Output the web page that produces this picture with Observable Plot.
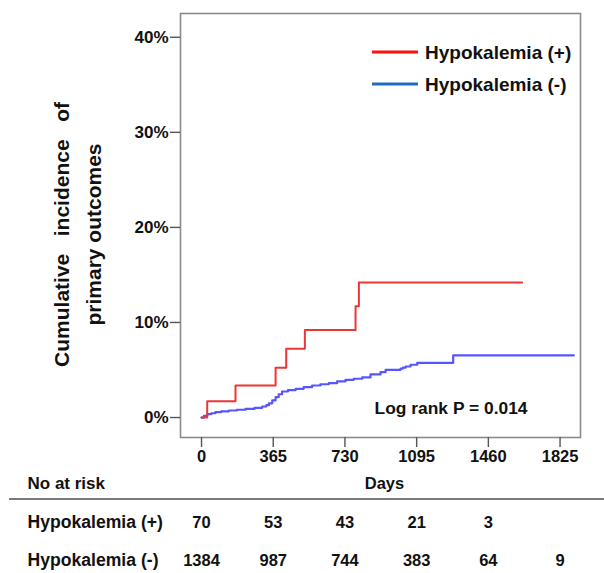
<!DOCTYPE html>
<html>
<head>
<meta charset="utf-8">
<script src="https://cdn.jsdelivr.net/npm/d3@7"></script>
<script src="https://cdn.jsdelivr.net/npm/@observablehq/plot@0.6"></script>
<style>
  html, body { margin: 0; padding: 0; background: #fff; }
  #chart svg { display: block; }
</style>
</head>
<body>
<div id="chart"></div>
<script>
// ---- data ----
const xTicks = [0, 365, 730, 1095, 1460, 1825];
const yTicks = [0, 10, 20, 30, 40];

const groupNames = ["Hypokalemia (+)", "Hypokalemia (-)"];
const plotColors = ["#ee3535", "#5656ff"];
const legendColors = ["#ff1010", "#1e6fc4"];

// Hypokalemia (+) cumulative incidence (%) step curve
const redDays = [0, 29, 173, 377, 431, 526, 784, 801, 1632];
const redPct  = [0, 1.72, 3.37, 5.23, 7.23, 9.2, 11.7, 14.2, 14.2];

// Hypokalemia (-) cumulative incidence (%) step curve
const blueDays = [0, 12, 29, 50, 71, 100, 139, 180, 224, 270, 309, 330, 343, 360, 377, 393, 410, 440, 479, 520, 563, 605, 648, 690, 733, 775, 818, 860, 911, 937, 1013, 1025, 1039, 1064, 1098, 1281, 1895];
const bluePct  = [0, 0.18, 0.35, 0.45, 0.56, 0.65, 0.74, 0.82, 0.91, 1.02, 1.16, 1.3, 1.5, 1.8, 2.14, 2.45, 2.74, 2.88, 3.02, 3.2, 3.37, 3.5, 3.61, 3.8, 3.97, 4.08, 4.22, 4.53, 4.77, 5.02, 5.15, 5.25, 5.37, 5.55, 5.76, 6.53, 6.53];

// Numbers at risk
const riskTimes = [0, 365, 730, 1095, 1460, 1825];
const riskPlus  = [70, 53, 43, 21, 3, null];
const riskMinus = [1384, 987, 744, 383, 64, 9];

const yLabel = "Cumulative\u00a0\u00a0\u00a0incidence\u00a0\u00a0\u00a0of\nprimary outcomes";
const xLabel = "Days";
const riskTitle = "No at risk";
const logRankText = "Log rank P = 0.014";

// ---- build ----
const FONT = "'Liberation Sans', Arial, Helvetica, sans-serif";
const W = 604;
const xDomain = [-107, 1929];
const marginLeft = 180, marginRight = 24;

const redData = redDays.map((d, i) => ({day: d, pct: redPct[i]}));
const blueData = blueDays.map((d, i) => ({day: d, pct: bluePct[i]}));

function legendMark(index, scales, values, dims) {
  const g = d3.create("svg:g");
  const right = dims.width - dims.marginRight;
  groupNames.forEach((name, i) => {
    const y = dims.marginTop + 39 + i * 32;
    g.append("line")
      .attr("x1", right - 208).attr("x2", right - 162)
      .attr("y1", y).attr("y2", y)
      .attr("stroke", legendColors[i]).attr("stroke-width", 3.2);
    g.append("text")
      .attr("x", right - 155).attr("y", y).attr("dy", "0.36em")
      .attr("text-anchor", "start")
      .attr("font-size", 19).attr("font-weight", "bold")
      .attr("fill", "#111")
      .text(name);
  });
  return g.node();
}

const main = Plot.plot({
  width: W,
  height: 492,
  marginLeft, marginRight,
  marginTop: 13,
  marginBottom: 55,
  style: {fontFamily: FONT, fontSize: "16.5px", fontWeight: "bold", color: "#111", background: "#fff"},
  x: {domain: xDomain},
  y: {domain: [-2.1, 42.5]},
  marks: [
    Plot.frame({stroke: "#8a8a8a", strokeWidth: 1.6}),
    Plot.axisX(xTicks, {tickSize: 10, tickPadding: 3, label: null, tickFormat: d => String(d), stroke: "#555", strokeWidth: 1.4, fill: "#111"}),
    Plot.axisY(yTicks, {tickSize: 10, tickPadding: 2, label: null, tickFormat: d => d + "%", stroke: "#555", strokeWidth: 1.4, fill: "#111", fontSize: 17}),
    Plot.line(blueData, {x: "day", y: "pct", curve: "step-after", stroke: plotColors[1], strokeWidth: 2.2}),
    Plot.line(redData, {x: "day", y: "pct", curve: "step-after", stroke: plotColors[0], strokeWidth: 2}),
    legendMark,
    Plot.text([logRankText], {frameAnchor: "bottom-right", dx: -53, dy: -29, textAnchor: "end", lineAnchor: "middle", fontSize: 17.4, fontWeight: "bold", fill: "#111"}),
    Plot.text([yLabel], {frameAnchor: "left", rotate: -90, dx: -106, dy: 9, textAnchor: "middle", lineAnchor: "middle", lineHeight: 1.52, fontSize: 21, fontWeight: "bold", fill: "#111"}),
    Plot.text([xLabel], {frameAnchor: "bottom", dx: 4, dy: 46, lineAnchor: "middle", fontSize: 16.5, fontWeight: "bold", fill: "#111"}),
    Plot.text([riskTitle], {frameAnchor: "bottom-left", dx: -153, dy: 46, textAnchor: "start", lineAnchor: "middle", fontSize: 17, fontWeight: "bold", fill: "#111"})
  ]
});

const tableRows = [];
riskTimes.forEach((t, i) => {
  if (riskPlus[i] != null) tableRows.push({t, group: groupNames[0], n: riskPlus[i]});
  if (riskMinus[i] != null) tableRows.push({t, group: groupNames[1], n: riskMinus[i]});
});

function separator(index, scales, values, dims) {
  return d3.create("svg:line")
    .attr("x1", 9).attr("x2", dims.width)
    .attr("y1", 7).attr("y2", 7)
    .attr("stroke", "#7a7a7a").attr("stroke-width", 2.2)
    .node();
}

const table = Plot.plot({
  width: W,
  height: 81,
  marginLeft, marginRight,
  marginTop: 0, marginBottom: 0,
  style: {fontFamily: FONT, fontSize: "16.5px", fontWeight: "bold", color: "#111", background: "#fff"},
  x: {domain: xDomain, axis: null},
  y: {type: "point", domain: groupNames, range: [29.5, 68], padding: 0, axis: null},
  marks: [
    separator,
    Plot.text(groupNames, {y: d => d, text: d => d, frameAnchor: "left", dx: -153, textAnchor: "start", fontSize: 17.6, fontWeight: "bold", fill: "#111"}),
    Plot.text(tableRows, {x: "t", y: "group", text: d => String(d.n), fontSize: 16.5, fontWeight: "bold", fill: "#111"})
  ]
});

const chart = document.getElementById("chart");
chart.append(main, table);
</script>
</body>
</html>
